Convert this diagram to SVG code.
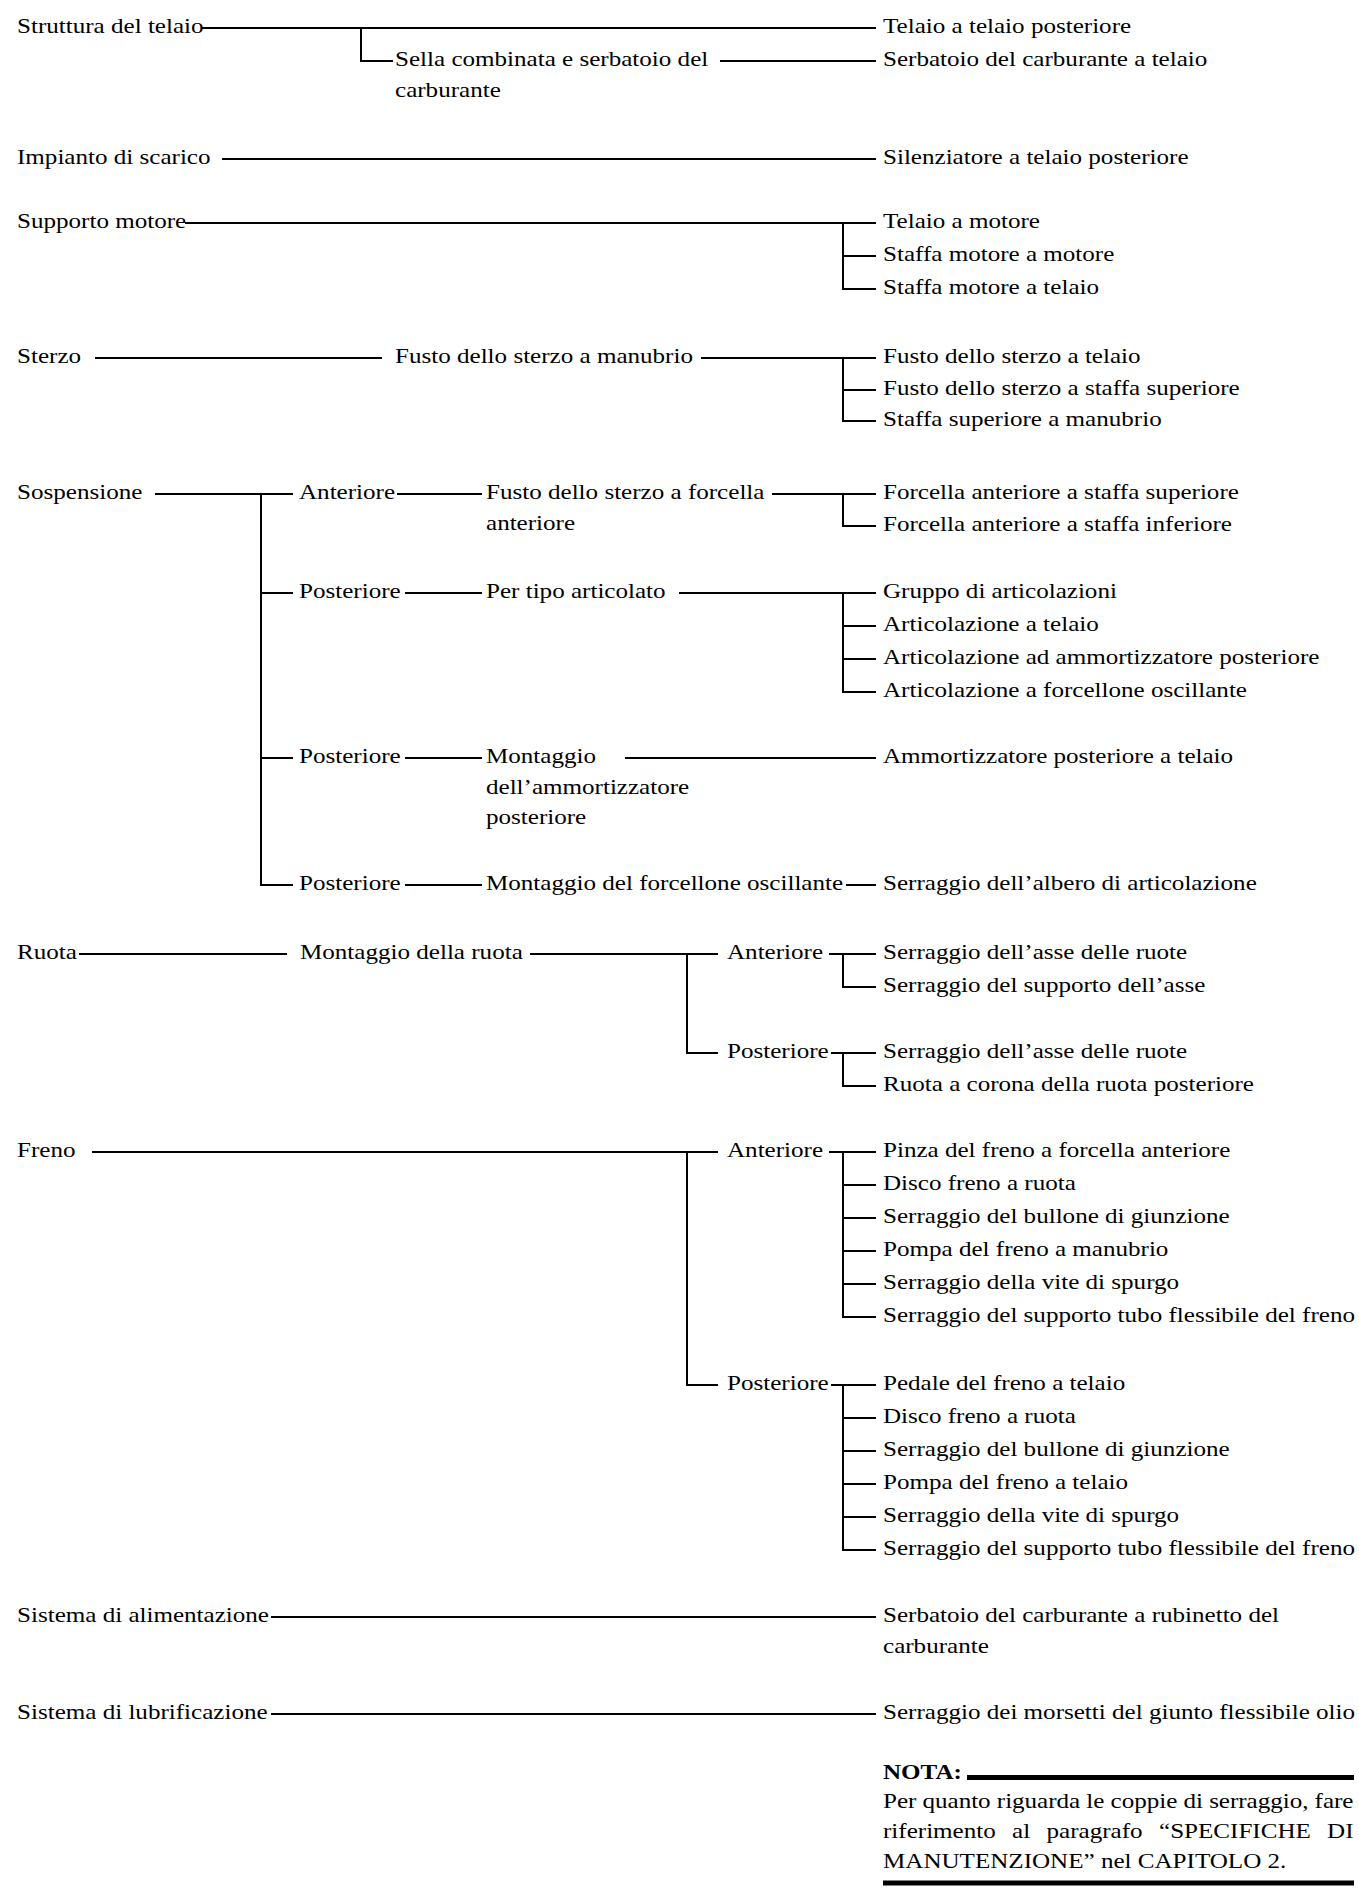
<svg xmlns="http://www.w3.org/2000/svg" width="1359" height="1895" viewBox="0 0 1359 1895">
<style>
text { font-family: "Liberation Serif", "Times New Roman", serif; font-size: 22px; fill: #000; }
.b { font-weight: bold; }
#connectors path { fill: none; stroke: #000; stroke-width: 2; }
.rule { fill: #000; }
</style>
<rect width="1359" height="1895" fill="#fff"/>
<g id="connectors">
<path d="M202 28 H876 M361 28 V61 H393 M720 61 H876"/>
<path d="M222 159 H876"/>
<path d="M185 223 H876 M843 223 V289 H876 M843 256 H876"/>
<path d="M95 358 H382 M701 358 H876 M843 358 V421 H876 M843 390 H876"/>
<path d="M155 494 H293 M261 494 V885 H293 M261 593 H293 M261 758 H293 M397 494 H482 M772 494 H876 M843 494 V526 H876"/>
<path d="M405 593 H482 M679 593 H876 M843 593 V692 H876 M843 626 H876 M843 659 H876"/>
<path d="M405 758 H482 M625 758 H876"/>
<path d="M405 885 H482 M846 885 H876"/>
<path d="M79 954 H287 M530 954 H718 M687 954 V1053 H718 M829 954 H876 M843 954 V987 H876"/>
<path d="M831 1053 H876 M843 1053 V1086 H876"/>
<path d="M92 1152 H718 M687 1152 V1385 H718 M829 1152 H876 M843 1152 V1317 H876 M843 1185 H876 M843 1218 H876 M843 1251 H876 M843 1284 H876"/>
<path d="M831 1385 H876 M843 1385 V1550 H876 M843 1418 H876 M843 1451 H876 M843 1484 H876 M843 1517 H876"/>
<path d="M271 1617 H876"/>
<path d="M271 1714 H876"/>
</g>
<g id="n-struttura"><text transform="matrix(1.14 0 0 1 17 33)">Struttura del telaio</text></g>
<g id="n-sella"><text transform="matrix(1.14 0 0 1 395 66)">Sella combinata e serbatoio del</text><text transform="matrix(1.14 0 0 1 395 96.5)">carburante</text></g>
<g id="n-telaio-post"><text transform="matrix(1.14 0 0 1 883 33)">Telaio a telaio posteriore</text></g>
<g id="n-serb-telaio"><text transform="matrix(1.14 0 0 1 883 66)">Serbatoio del carburante a telaio</text></g>
<g id="n-impianto"><text transform="matrix(1.14 0 0 1 17 164)">Impianto di scarico</text></g>
<g id="n-silenziatore"><text transform="matrix(1.14 0 0 1 883 164)">Silenziatore a telaio posteriore</text></g>
<g id="n-supporto"><text transform="matrix(1.14 0 0 1 17 228)">Supporto motore</text></g>
<g id="n-supporto-items">
<text transform="matrix(1.14 0 0 1 883 228)">Telaio a motore</text>
<text transform="matrix(1.14 0 0 1 883 261)">Staffa motore a motore</text>
<text transform="matrix(1.14 0 0 1 883 294)">Staffa motore a telaio</text>
</g>
<g id="n-sterzo"><text transform="matrix(1.14 0 0 1 17 363)">Sterzo</text></g>
<g id="n-fusto-manubrio"><text transform="matrix(1.14 0 0 1 395 363)">Fusto dello sterzo a manubrio</text></g>
<g id="n-sterzo-items">
<text transform="matrix(1.14 0 0 1 883 363)">Fusto dello sterzo a telaio</text>
<text transform="matrix(1.14 0 0 1 883 395)">Fusto dello sterzo a staffa superiore</text>
<text transform="matrix(1.14 0 0 1 883 426)">Staffa superiore a manubrio</text>
</g>
<g id="n-sospensione"><text transform="matrix(1.14 0 0 1 17 499)">Sospensione</text></g>
<g id="n-sosp-ant"><text transform="matrix(1.14 0 0 1 299 499)">Anteriore</text></g>
<g id="n-fusto-forcella"><text transform="matrix(1.14 0 0 1 486 499)">Fusto dello sterzo a forcella</text><text transform="matrix(1.14 0 0 1 486 529.5)">anteriore</text></g>
<g id="n-forcella-items">
<text transform="matrix(1.14 0 0 1 883 499)">Forcella anteriore a staffa superiore</text>
<text transform="matrix(1.14 0 0 1 883 531)">Forcella anteriore a staffa inferiore</text>
</g>
<g id="n-sosp-post1"><text transform="matrix(1.14 0 0 1 299 598)">Posteriore</text></g>
<g id="n-per-tipo"><text transform="matrix(1.14 0 0 1 486 598)">Per tipo articolato</text></g>
<g id="n-artic-items">
<text transform="matrix(1.14 0 0 1 883 598)">Gruppo di articolazioni</text>
<text transform="matrix(1.14 0 0 1 883 631)">Articolazione a telaio</text>
<text transform="matrix(1.14 0 0 1 883 664)">Articolazione ad ammortizzatore posteriore</text>
<text transform="matrix(1.14 0 0 1 883 697)">Articolazione a forcellone oscillante</text>
</g>
<g id="n-sosp-post2"><text transform="matrix(1.14 0 0 1 299 763)">Posteriore</text></g>
<g id="n-montaggio-amm"><text transform="matrix(1.14 0 0 1 486 763)">Montaggio</text><text transform="matrix(1.14 0 0 1 486 793.5)">dell’ammortizzatore</text><text transform="matrix(1.14 0 0 1 486 824)">posteriore</text></g>
<g id="n-amm-telaio"><text transform="matrix(1.14 0 0 1 883 763)">Ammortizzatore posteriore a telaio</text></g>
<g id="n-sosp-post3"><text transform="matrix(1.14 0 0 1 299 890)">Posteriore</text></g>
<g id="n-montaggio-forc"><text transform="matrix(1.14 0 0 1 486 890)">Montaggio del forcellone oscillante</text></g>
<g id="n-albero"><text transform="matrix(1.14 0 0 1 883 890)">Serraggio dell’albero di articolazione</text></g>
<g id="n-ruota"><text transform="matrix(1.14 0 0 1 17 959)">Ruota</text></g>
<g id="n-montaggio-ruota"><text transform="matrix(1.14 0 0 1 300 959)">Montaggio della ruota</text></g>
<g id="n-ruota-ant"><text transform="matrix(1.14 0 0 1 727 959)">Anteriore</text></g>
<g id="n-ruota-ant-items">
<text transform="matrix(1.14 0 0 1 883 959)">Serraggio dell’asse delle ruote</text>
<text transform="matrix(1.14 0 0 1 883 992)">Serraggio del supporto dell’asse</text>
</g>
<g id="n-ruota-post"><text transform="matrix(1.14 0 0 1 727 1058)">Posteriore</text></g>
<g id="n-ruota-post-items">
<text transform="matrix(1.14 0 0 1 883 1058)">Serraggio dell’asse delle ruote</text>
<text transform="matrix(1.14 0 0 1 883 1091)">Ruota a corona della ruota posteriore</text>
</g>
<g id="n-freno"><text transform="matrix(1.14 0 0 1 17 1157)">Freno</text></g>
<g id="n-freno-ant"><text transform="matrix(1.14 0 0 1 727 1157)">Anteriore</text></g>
<g id="n-freno-ant-items">
<text transform="matrix(1.14 0 0 1 883 1157)">Pinza del freno a forcella anteriore</text>
<text transform="matrix(1.14 0 0 1 883 1190)">Disco freno a ruota</text>
<text transform="matrix(1.14 0 0 1 883 1223)">Serraggio del bullone di giunzione</text>
<text transform="matrix(1.14 0 0 1 883 1256)">Pompa del freno a manubrio</text>
<text transform="matrix(1.14 0 0 1 883 1289)">Serraggio della vite di spurgo</text>
<text transform="matrix(1.14 0 0 1 883 1322)">Serraggio del supporto tubo flessibile del freno</text>
</g>
<g id="n-freno-post"><text transform="matrix(1.14 0 0 1 727 1390)">Posteriore</text></g>
<g id="n-freno-post-items">
<text transform="matrix(1.14 0 0 1 883 1390)">Pedale del freno a telaio</text>
<text transform="matrix(1.14 0 0 1 883 1423)">Disco freno a ruota</text>
<text transform="matrix(1.14 0 0 1 883 1456)">Serraggio del bullone di giunzione</text>
<text transform="matrix(1.14 0 0 1 883 1489)">Pompa del freno a telaio</text>
<text transform="matrix(1.14 0 0 1 883 1522)">Serraggio della vite di spurgo</text>
<text transform="matrix(1.14 0 0 1 883 1555)">Serraggio del supporto tubo flessibile del freno</text>
</g>
<g id="n-alimentazione"><text transform="matrix(1.14 0 0 1 17 1622)">Sistema di alimentazione</text></g>
<g id="n-rubinetto"><text transform="matrix(1.14 0 0 1 883 1622)">Serbatoio del carburante a rubinetto del</text><text transform="matrix(1.14 0 0 1 883 1652.5)">carburante</text></g>
<g id="n-lubrificazione"><text transform="matrix(1.14 0 0 1 17 1719)">Sistema di lubrificazione</text></g>
<g id="n-morsetti"><text transform="matrix(1.14 0 0 1 883 1719)">Serraggio dei morsetti del giunto flessibile olio</text></g>
<g id="nota">
<text class="b" transform="matrix(1.14 0 0 1 883 1779)">NOTA:</text>
<rect class="rule" x="967" y="1775" width="387" height="5"/>
<text transform="matrix(1.14 0 0 1 883 1807.5)" textLength="412.7" lengthAdjust="spacing">Per quanto riguarda le coppie di serraggio, fare</text>
<text transform="matrix(1.14 0 0 1 883 1837.5)">riferimento</text>
<text transform="matrix(1.14 0 0 1 1012 1837.5)">al</text>
<text transform="matrix(1.14 0 0 1 1046.5 1837.5)">paragrafo</text>
<text transform="matrix(1.14 0 0 1 1159 1837.5)">“SPECIFICHE</text>
<text transform="matrix(1.14 0 0 1 1353.5 1837.5)" text-anchor="end">DI</text>
<text transform="matrix(1.14 0 0 1 883 1867.5)">MANUTENZIONE” nel CAPITOLO 2.</text>
<rect class="rule" x="883" y="1880.5" width="471" height="5"/>
</g>
</svg>
